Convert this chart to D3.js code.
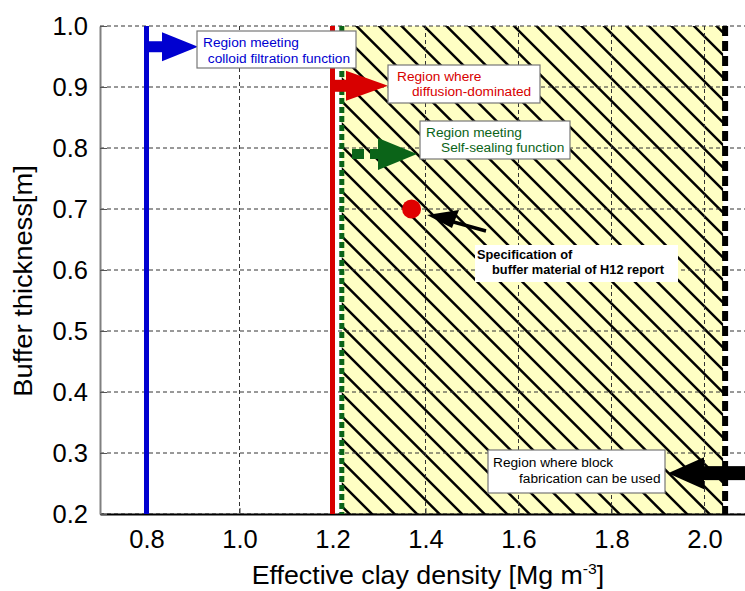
<!DOCTYPE html>
<html>
<head>
<meta charset="utf-8">
<script src="https://cdn.jsdelivr.net/npm/d3@7"></script>
<style>
  html, body { margin: 0; padding: 0; background: #fff; }
  svg { display: block; font-family: "Liberation Sans", Arial, sans-serif; }
</style>
</head>
<body>
<svg id="chart" width="745" height="591"></svg>
<script>
// Axis ticks
const xTicks = [0.8, 1.0, 1.2, 1.4, 1.6, 1.8, 2.0];
const yTicks = [0.2, 0.3, 0.4, 0.5, 0.6, 0.7, 0.8, 0.9, 1.0];

// Density thresholds [Mg m-3]
const colloidDensity = 0.8;      // colloid filtration lower limit
const diffusionDensity = 1.2;    // diffusion-dominated lower limit
const selfSealDensity = 1.22;    // self-sealing lower limit
const blockFabDensity = 2.04;    // block fabrication upper limit

// H12 reference buffer specification
const h12Density = 1.37;
const h12Thickness = 0.70;

// Annotation labels
const colloidLabel = ["Region meeting", " colloid filtration function"];
const diffusionLabel = ["Region where", "diffusion-dominated"];
const selfSealLabel = ["Region meeting", "Self-sealing function"];
const h12Label = ["Specification of", "buffer material of H12 report"];
const blockLabel = ["Region where block", "fabrication can be used"];

const svg = d3.select("#chart");
const plotLeft = 100, plotTop = 26, plotBottom = 514;

const x = d3.scaleLinear().domain([0.7, 2.1]).range([plotLeft, 751]);
const y = d3.scaleLinear().domain([0.2, 1.0]).range([plotBottom, plotTop]);

const defs = svg.append("defs");
defs.append("clipPath").attr("id", "feasible")
  .append("rect")
  .attr("x", x(selfSealDensity)).attr("y", y(1.0))
  .attr("width", x(blockFabDensity) - x(selfSealDensity))
  .attr("height", y(0.2) - y(1.0));

// Feasible region: yellow fill with diagonal hatching
svg.append("rect")
  .attr("x", x(selfSealDensity)).attr("y", y(1.0))
  .attr("width", x(blockFabDensity) - x(selfSealDensity))
  .attr("height", y(0.2) - y(1.0))
  .attr("fill", "#ffffc4");

const hatch = svg.append("g").attr("clip-path", "url(#feasible)");
const step = 22.5;
for (let c = -600; c < 800; c += step) {
  // line x - y = c
  hatch.append("line")
    .attr("x1", c + 8).attr("y1", 0)
    .attr("x2", c + 8 + 700).attr("y2", 700)
    .attr("stroke", "#000").attr("stroke-width", 2.5);
}

// Grid
const grid = svg.append("g").attr("stroke", "#333").attr("stroke-width", 1)
  .attr("stroke-dasharray", "4,3");
grid.selectAll(".gx").data(xTicks).join("line")
  .attr("x1", d => x(d)).attr("x2", d => x(d))
  .attr("y1", plotTop).attr("y2", plotBottom);
grid.selectAll(".gy").data(yTicks).join("line")
  .attr("x1", plotLeft).attr("x2", 745)
  .attr("y1", d => y(d)).attr("y2", d => y(d));

// Axes
const xAxis = d3.axisBottom(x).tickValues(xTicks).tickFormat(d3.format(".1f"))
  .tickSizeInner(-6).tickSizeOuter(0).tickPadding(16);
const gx = svg.append("g").attr("transform", `translate(0,${plotBottom})`).call(xAxis);
gx.select(".domain").attr("stroke", "#000").attr("stroke-width", 2);
gx.selectAll(".tick line").attr("stroke", "#444");
gx.selectAll("text").attr("font-size", 25.5).attr("fill", "#000")
  .attr("font-family", "Liberation Sans, Arial, sans-serif");

const yAxis = d3.axisLeft(y).tickValues(yTicks).tickFormat(d3.format(".1f"))
  .tickSizeInner(-7).tickSizeOuter(0).tickPadding(12);
const gy = svg.append("g").attr("transform", `translate(${plotLeft},0)`).call(yAxis);
gy.select(".domain").attr("stroke", "#808080").attr("stroke-width", 2);
gy.selectAll(".tick line").attr("stroke", "#555");
gy.selectAll("text").attr("font-size", 25.5).attr("fill", "#000")
  .attr("font-family", "Liberation Sans, Arial, sans-serif");

// Threshold lines
svg.append("line")
  .attr("x1", x(colloidDensity)).attr("x2", x(colloidDensity))
  .attr("y1", plotTop).attr("y2", plotBottom)
  .attr("stroke", "#0000d0").attr("stroke-width", 5);
svg.append("line")
  .attr("x1", x(diffusionDensity)).attr("x2", x(diffusionDensity))
  .attr("y1", plotTop).attr("y2", plotBottom)
  .attr("stroke", "#d80000").attr("stroke-width", 5);
svg.append("line")
  .attr("x1", x(selfSealDensity)).attr("x2", x(selfSealDensity))
  .attr("y1", plotTop).attr("y2", plotBottom)
  .attr("stroke", "#0b6418").attr("stroke-width", 5)
  .attr("stroke-dasharray", "6,3");
svg.append("line")
  .attr("x1", x(blockFabDensity) + 2).attr("x2", x(blockFabDensity) + 2)
  .attr("y1", plotTop).attr("y2", plotBottom)
  .attr("stroke", "#000").attr("stroke-width", 6)
  .attr("stroke-dasharray", "10,5");

// Horizontal block arrow from x0 to tip x1
function blockArrow(x0, x1, yc, shaftHalf, headLen, headHalf, color, dash) {
  const dir = Math.sign(x1 - x0);
  const hb = x1 - dir * headLen;
  if (dash) {
    svg.append("line").attr("x1", x0).attr("x2", hb).attr("y1", yc).attr("y2", yc)
      .attr("stroke", color).attr("stroke-width", shaftHalf * 2)
      .attr("stroke-dasharray", dash);
  } else {
    svg.append("rect").attr("x", Math.min(x0, hb)).attr("y", yc - shaftHalf)
      .attr("width", Math.abs(hb - x0)).attr("height", shaftHalf * 2)
      .attr("fill", color);
  }
  svg.append("path")
    .attr("d", `M${hb},${yc - headHalf}L${x1},${yc}L${hb},${yc + headHalf}Z`)
    .attr("fill", color);
}

function labelBox(bx, by, bw, bh, lines, color, opts = {}) {
  svg.append("rect").attr("x", bx).attr("y", by).attr("width", bw).attr("height", bh)
    .attr("fill", "#fff")
    .attr("stroke", opts.border === false ? "none" : "#777").attr("stroke-width", 1.2);
  const t = svg.append("text").attr("fill", color)
    .attr("font-size", opts.size || 13.7)
    .attr("font-weight", opts.bold ? "bold" : "normal")
    .attr("xml:space", "preserve");
  lines.forEach((s, i) => {
    t.append("tspan").attr("x", bx + (i === 0 ? opts.dx0 : opts.dx1))
      .attr("y", by + opts.dy0 + i * opts.lh).text(s);
  });
}

// Colloid filtration annotation
blockArrow(x(colloidDensity), 198, y(0.966), 5.5, 36, 14.5, "#0000d0");
labelBox(197, 31, 159, 37, colloidLabel, "#0000d0", { dx0: 6, dx1: 7, dy0: 16, lh: 16 });

// Diffusion annotation
blockArrow(x(diffusionDensity), 388, y(0.902), 6, 42, 15, "#d80000");
labelBox(388, 65, 152, 38, diffusionLabel, "#d80000", { dx0: 9, dx1: 24, dy0: 16, lh: 14.5 });

// Self-sealing annotation
blockArrow(352, 417, y(0.79), 5, 39, 16, "#0b6418", "12,6");
labelBox(420, 121, 150, 38, selfSealLabel, "#0b6418", { dx0: 6, dx1: 21, dy0: 16, lh: 15 });

// H12 specification point
svg.append("circle").attr("cx", x(h12Density)).attr("cy", y(h12Thickness))
  .attr("r", 9.5).attr("fill", "#e00000");
svg.append("line").attr("x1", 486).attr("y1", 231).attr("x2", 450).attr("y2", 221)
  .attr("stroke", "#000").attr("stroke-width", 3.5);
svg.append("path").attr("d", "M427,215L459,210L452,228Z").attr("fill", "#000");
labelBox(475, 245, 203, 37, h12Label, "#000",
  { dx0: 2, dx1: 17, dy0: 14, lh: 15, bold: true, border: false, size: 12.8 });

// Block fabrication annotation
labelBox(488, 450, 177, 43, blockLabel, "#000", { dx0: 5, dx1: 31, dy0: 17, lh: 16 });
blockArrow(745, 668, y(0.267), 7, 36, 16, "#000");

// Axis titles
svg.append("text")
  .attr("transform", "translate(32,281) rotate(-90) scale(1.05,1)")
  .attr("text-anchor", "middle").attr("font-size", 26).attr("fill", "#000")
  .text("Buffer thickness[m]");
const xt = svg.append("text")
  .attr("transform", "translate(428,584) scale(1.05,1)")
  .attr("text-anchor", "middle").attr("font-size", 25.5).attr("fill", "#000");
xt.append("tspan").text("Effective clay density [Mg m");
xt.append("tspan").attr("font-size", 15).attr("dy", -10).text("-3");
xt.append("tspan").attr("dy", 10).text("]");
</script>
</body>
</html>
